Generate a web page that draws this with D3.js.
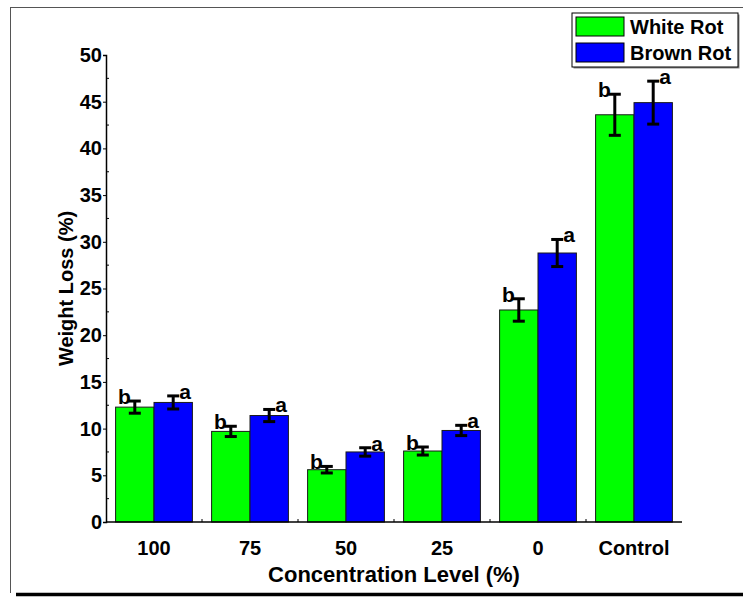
<!DOCTYPE html>
<html>
<head>
<meta charset="utf-8">
<script src="https://cdn.jsdelivr.net/npm/d3@7"></script>
<style>
  body { margin: 0; background: #fff; }
  text { font-family: "Liberation Sans", Arial, sans-serif; font-weight: bold; }
</style>
</head>
<body>
<div id="chart"></div>
<script>
// --- data ---------------------------------------
var categories = ["100", "75", "50", "25", "0", "Control"]
var seriesNames = ["White Rot", "Brown Rot"]
var whiteRot = [12.3, 9.7, 5.6, 7.6, 22.7, 43.6]
var brownRot = [12.8, 11.4, 7.5, 9.8, 28.8, 44.9]
var whiteErr = [0.65, 0.55, 0.35, 0.43, 1.2, 2.2]
var brownErr = [0.7, 0.65, 0.45, 0.55, 1.45, 2.3]
var whiteLetters = ["b", "b", "b", "b", "b", "b"]
var brownLetters = ["a", "a", "a", "a", "a", "a"]
var yTicks = [0, 5, 10, 15, 20, 25, 30, 35, 40, 45, 50]

var width = 743, height = 597
var colors = ["#00ff00", "#0000ff"]

var svg = d3.select("#chart").append("svg")
  .attr("width", width)
  .attr("height", height)

// outer frame
svg.append("line").attr("x1", 10.5).attr("x2", 10.5).attr("y1", 7).attr("y2", 593)
  .attr("stroke", "#555").attr("stroke-width", 1)
svg.append("line").attr("x1", 10).attr("x2", 743).attr("y1", 7.5).attr("y2", 7.5)
  .attr("stroke", "#555").attr("stroke-width", 1)
svg.append("line").attr("x1", 16).attr("x2", 743).attr("y1", 594.5).attr("y2", 594.5)
  .attr("stroke", "#000").attr("stroke-width", 3.5)

var plot = { left: 106, right: 682, top: 55, bottom: 522 }

var x0 = d3.scaleBand().domain(categories).range([plot.left, plot.right]).paddingInner(0.2).paddingOuter(0.1)
var x1 = d3.scaleBand().domain(seriesNames).range([0, x0.bandwidth()])
var y = d3.scaleLinear().domain([0, 50]).range([plot.bottom, plot.top])

var rows = categories.map((c, i) => ({
  cat: c,
  vals: [
    { s: 0, v: whiteRot[i], e: whiteErr[i], l: whiteLetters[i] },
    { s: 1, v: brownRot[i], e: brownErr[i], l: brownLetters[i] }
  ]
}))

// bars
var groups = svg.append("g").selectAll("g")
  .data(rows)
  .enter().append("g")
    .attr("transform", d => `translate(${x0(d.cat)},0)`)

groups.selectAll("rect")
  .data(d => d.vals)
  .enter().append("rect")
    .attr("x", d => x1(seriesNames[d.s]))
    .attr("y", d => y(d.v))
    .attr("width", x1.bandwidth())
    .attr("height", d => y(0) - y(d.v))
    .attr("fill", d => colors[d.s])
    .attr("stroke", "#1a1a1a")
    .attr("stroke-width", 1)

// error bars
var cap = 6
var err = groups.selectAll("g.err")
  .data(d => d.vals)
  .enter().append("g")
    .attr("class", "err")
    .attr("transform", d => `translate(${x1(seriesNames[d.s]) + x1.bandwidth() / 2},0)`)

err.append("line")
  .attr("y1", d => y(d.v - d.e)).attr("y2", d => y(d.v + d.e))
  .attr("stroke", "#000").attr("stroke-width", 3)
err.append("line")
  .attr("x1", -cap).attr("x2", cap)
  .attr("y1", d => y(d.v + d.e)).attr("y2", d => y(d.v + d.e))
  .attr("stroke", "#000").attr("stroke-width", 3)
err.append("line")
  .attr("x1", -cap).attr("x2", cap)
  .attr("y1", d => y(d.v - d.e)).attr("y2", d => y(d.v - d.e))
  .attr("stroke", "#000").attr("stroke-width", 3)

// significance letters
err.append("text")
  .attr("x", d => d.s === 0 ? -4 : 6)
  .attr("y", d => y(d.v + d.e) + 3)
  .attr("text-anchor", d => d.s === 0 ? "end" : "start")
  .style("font-size", "21px")
  .text(d => d.l)

// y axis
var yAxis = svg.append("g")
  .attr("transform", `translate(${plot.left},0)`)
  .call(d3.axisLeft(y).tickValues(yTicks).tickSize(3).tickPadding(1))
yAxis.select(".domain").attr("stroke", "#000").attr("stroke-width", 1.5)
yAxis.selectAll("text").style("font-size", "20px").attr("fill", "#000")
yAxis.selectAll(".tick line").attr("stroke", "#000")
svg.append("g")
  .attr("transform", `translate(${plot.left},0)`)
  .selectAll("line")
  .data(d3.range(2.5, 50, 5))
  .enter().append("line")
    .attr("x1", 0).attr("x2", 3)
    .attr("y1", d => y(d)).attr("y2", d => y(d))
    .attr("stroke", "#000")

// x axis
svg.append("line")
  .attr("x1", plot.left).attr("x2", plot.right)
  .attr("y1", plot.bottom).attr("y2", plot.bottom)
  .attr("stroke", "#000").attr("stroke-width", 1.5)
svg.append("g").selectAll("line")
  .data(categories.slice(1))
  .enter().append("line")
    .attr("x1", d => x0(d) - x0.step() * x0.paddingInner() / 2)
    .attr("x2", d => x0(d) - x0.step() * x0.paddingInner() / 2)
    .attr("y1", plot.bottom).attr("y2", plot.bottom - 3)
    .attr("stroke", "#000")
svg.append("g").selectAll("text")
  .data(categories)
  .enter().append("text")
    .attr("x", d => x0(d) + x0.bandwidth() / 2)
    .attr("y", 555)
    .attr("text-anchor", "middle")
    .style("font-size", "20px")
    .text(d => d)

// axis titles
svg.append("text")
  .attr("x", (plot.left + plot.right) / 2)
  .attr("y", 582)
  .attr("text-anchor", "middle")
  .style("font-size", "22px")
  .text("Concentration Level (%)")
svg.append("text")
  .attr("transform", `translate(73,${(plot.top + plot.bottom) / 2}) rotate(-90)`)
  .attr("text-anchor", "middle")
  .style("font-size", "20px")
  .text("Weight Loss (%)")

// legend
var legend = svg.append("g").attr("transform", "translate(572,13)")
legend.append("rect")
  .attr("x", 1.5).attr("y", 1.5).attr("width", 166).attr("height", 54)
  .attr("fill", "#888")
legend.append("rect")
  .attr("x", 0).attr("y", 0).attr("width", 166).attr("height", 54)
  .attr("fill", "#fff").attr("stroke", "#000").attr("stroke-width", 1)
var li = legend.selectAll("g.item")
  .data(seriesNames)
  .enter().append("g")
    .attr("class", "item")
    .attr("transform", (d, i) => `translate(4,${4 + i * 26})`)
li.append("rect")
  .attr("width", 48).attr("height", 19)
  .attr("fill", (d, i) => colors[i])
  .attr("stroke", "#000").attr("stroke-width", 1)
li.append("text")
  .attr("x", 54).attr("y", 17)
  .style("font-size", "20px")
  .text(d => d)
</script>
</body>
</html>
